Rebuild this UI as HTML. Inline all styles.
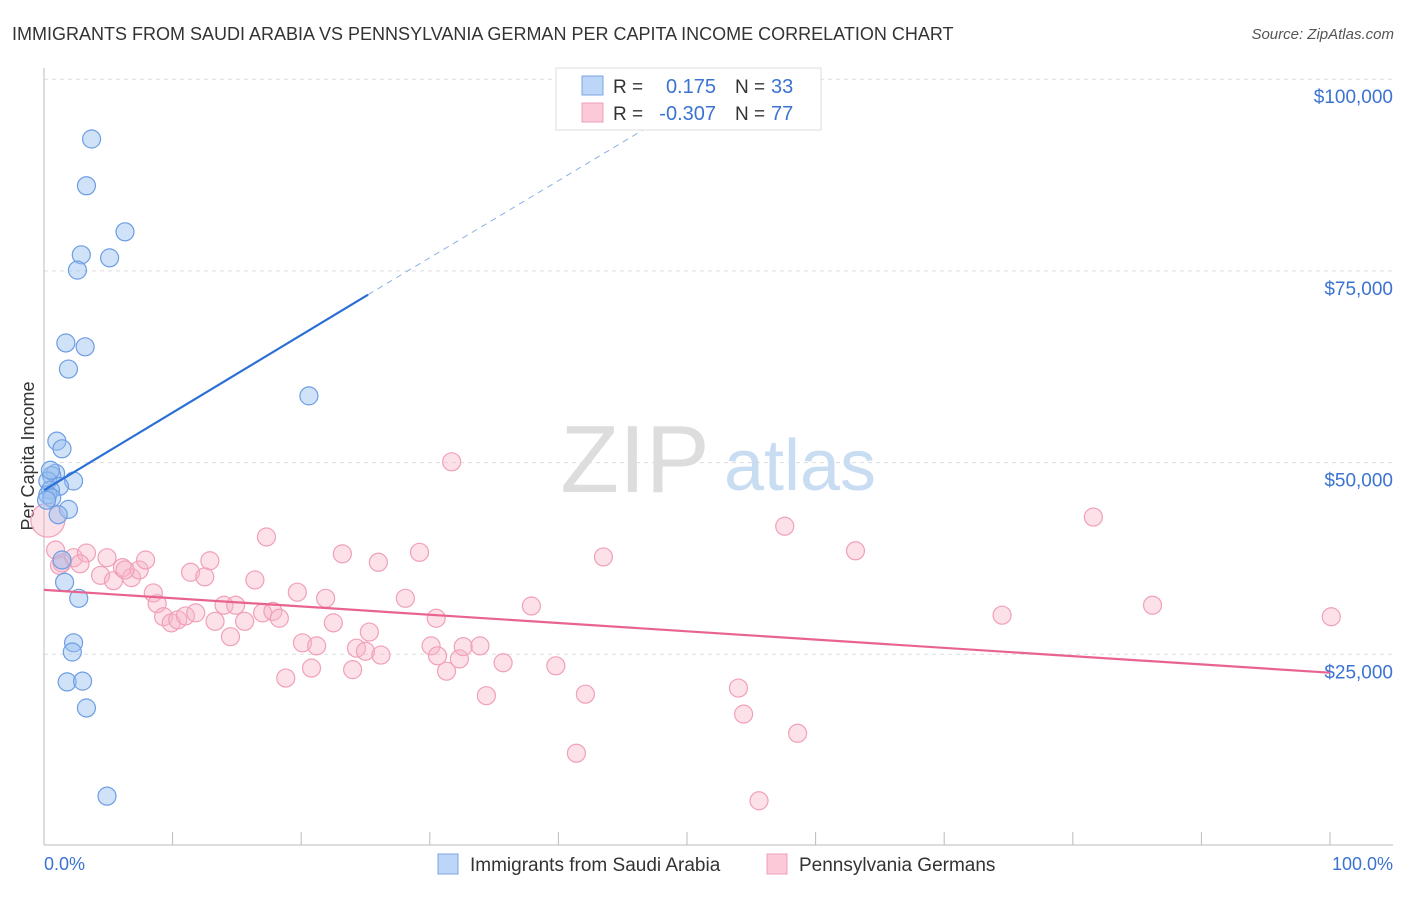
<!DOCTYPE html>
<html><head><meta charset="utf-8"><style>
body{margin:0;background:#fff;font-family:"Liberation Sans",sans-serif;}
svg text{font-family:"Liberation Sans",sans-serif;}
</style></head><body>
<svg width="1406" height="892">
<text x="12" y="40" font-size="18" fill="#333">IMMIGRANTS FROM SAUDI ARABIA VS PENNSYLVANIA GERMAN PER CAPITA INCOME CORRELATION CHART</text>
<text x="1394" y="39" font-size="15" fill="#555" font-style="italic" text-anchor="end">Source: ZipAtlas.com</text>
<g id="grid"></g>
<text x="635" y="492" font-size="96" fill="#ddd" font-family="Liberation Serif" text-anchor="middle">ZIP</text>
<text x="800" y="490" font-size="72" fill="#c8dcf2" text-anchor="middle">atlas</text>
<line x1="44" y1="68" x2="44" y2="845" stroke="#bbb"/>
<line x1="44" y1="845" x2="1393" y2="845" stroke="#bbb"/>
<text transform="translate(34,456) rotate(-90)" font-size="18" fill="#333" text-anchor="middle">Per Capita Income</text>
<text x="44" y="870" font-size="18" fill="#3b73d1">0.0%</text>
<text x="1393" y="870" font-size="18" fill="#3b73d1" text-anchor="end">100.0%</text>
<g id="pts"></g>
<g id="lines"></g>
<g>
<rect x="556" y="68" width="265" height="62" fill="#fff" stroke="#ddd"/>
<rect x="582" y="76" width="21" height="19" fill="#bcd6f7" stroke="#7aa6e6"/>
<rect x="582" y="103" width="21" height="19" fill="#fcc9d8" stroke="#f0a0b8"/>
<text x="613" y="93" font-size="19" fill="#333">R =</text><text x="716" y="93" font-size="20" fill="#3b73d1" text-anchor="end">0.175</text>
<text x="735" y="93" font-size="19" fill="#333">N =</text><text x="771" y="93" font-size="20" fill="#3b73d1">33</text>
<text x="613" y="120" font-size="19" fill="#333">R =</text><text x="716" y="120" font-size="20" fill="#3b73d1" text-anchor="end">-0.307</text>
<text x="735" y="120" font-size="19" fill="#333">N =</text><text x="771" y="120" font-size="20" fill="#3b73d1">77</text>
</g>
<g>
<rect x="438" y="854" width="20" height="20" fill="#bcd6f7" stroke="#7aa6e6"/>
<text x="470" y="871" font-size="19" fill="#333">Immigrants from Saudi Arabia</text>
<rect x="767" y="854" width="20" height="20" fill="#fcc9d8" stroke="#f0a0b8"/>
<text x="799" y="871" font-size="19" fill="#333">Pennsylvania Germans</text>
</g>
</svg>
<script>
const yTicks=[25000,50000,75000,100000];
const yTickLabels=["$25,000","$50,000","$75,000","$100,000"];
const xTicks=[0,10,20,30,40,50,60,70,80,90,100];
const blueX=[3.7,3.3,6.3,2.9,5.1,2.6,1.7,3.2,1.9,20.6,1.0,1.4,0.9,0.6,0.3,2.3,1.2,0.5,0.3,0.6,1.9,1.1,1.4,1.6,2.7,2.3,2.2,1.8,3.0,3.3,4.9,0.2,0.5];
const blueY=[92.2,86.1,80.1,77.1,76.7,75.1,65.6,65.1,62.2,58.7,52.8,51.8,48.6,48.3,47.6,47.6,46.9,46.4,45.8,45.4,43.9,43.2,37.3,34.4,32.3,26.5,25.3,21.4,21.5,18.0,6.5,45.1,49.0];
const pinkX=[0.3,0.9,1.4,2.3,3.3,2.8,4.4,4.9,5.4,6.1,6.8,7.4,7.9,8.5,8.8,9.3,9.9,10.4,11.0,11.4,11.8,12.5,12.9,13.3,14.0,14.5,14.9,15.6,16.4,17.0,17.3,17.8,18.3,18.8,19.7,20.1,20.8,21.2,21.9,22.5,23.2,24.0,24.3,25.0,25.3,26.0,26.2,28.1,29.2,30.1,30.5,30.6,31.3,31.7,32.3,32.6,33.9,34.4,35.7,37.9,39.8,41.4,42.1,43.5,54.0,54.4,55.6,57.6,58.6,63.1,74.5,81.6,86.2,100.1,1.2,6.3];
const pinkY=[42.5,38.6,36.9,37.6,38.2,36.8,35.3,37.6,34.6,36.3,35.0,36.0,37.3,33.0,31.6,29.9,29.1,29.5,30.0,35.7,30.4,35.1,37.2,29.3,31.4,27.3,31.4,29.3,34.7,30.4,40.3,30.6,29.7,21.9,33.1,26.5,23.2,26.1,32.3,29.1,38.1,23.0,25.8,25.4,27.9,37.0,24.9,32.3,38.3,26.1,29.7,24.8,22.8,50.1,24.4,26.0,26.1,19.6,23.9,31.3,23.5,12.1,19.8,37.7,20.6,17.2,5.9,41.7,14.7,38.5,30.1,42.9,31.4,29.9,36.6,36.0];
const blueTrend=[46.4,71.9,93.8]; // at x = 0, 25.2, 47
const blueTrendX=[0,25.2,47];
const pinkTrend=[33.4,22.6];
const pinkTrendX=[0,100];
const NS="http://www.w3.org/2000/svg";
const sx=p=>44+p*12.86;
const sy=v=>846-v*0.007668;
function mk(t,a,parent){const e=document.createElementNS(NS,t);for(const k in a)e.setAttribute(k,a[k]);parent.appendChild(e);return e;}
const grid=document.getElementById('grid');
yTicks.forEach((v,i)=>{
 const l=mk('line',{x1:44,x2:1393,y1:sy(v),y2:sy(v),stroke:'#ddd','stroke-dasharray':'4,4'},grid);
 
 
 const t=mk('text',{x:1393,y:sy(v)+24,'font-size':19,fill:'#3b73d1','text-anchor':'end'},grid);
 t.textContent=yTickLabels[i];
 
 
});
xTicks.forEach(p=>{
 const l=mk('line',{x1:sx(p),x2:sx(p),y1:832,y2:845,stroke:'#bbb'},grid);
 
 
});
const pts=document.getElementById('pts');
pinkX.forEach((x,i)=>{
 const c=mk('circle',{cx:sx(x),cy:sy(pinkY[i]*1000),r:i===0?17:9,fill:'rgba(248,180,200,0.4)',stroke:'#f0a0b8','stroke-width':1.2},pts);
 
 
});
blueX.forEach((x,i)=>{
 const c=mk('circle',{cx:sx(x),cy:sy(blueY[i]*1000),r:9,fill:'rgba(150,190,240,0.45)',stroke:'#6d9de3','stroke-width':1.2},pts);
 
 
});
const lines=document.getElementById('lines');
const b1=mk('line',{x1:sx(blueTrendX[0]),y1:sy(blueTrend[0]*1000),x2:sx(blueTrendX[1]),y2:sy(blueTrend[1]*1000),stroke:'#2a6fd6','stroke-width':2.2},lines);


const b2=mk('line',{x1:sx(blueTrendX[1]),y1:sy(blueTrend[1]*1000),x2:sx(blueTrendX[2]),y2:sy(blueTrend[2]*1000),stroke:'#8ab0e6','stroke-width':1,'stroke-dasharray':'6,5'},lines);


const p1=mk('line',{x1:sx(pinkTrendX[0]),y1:sy(pinkTrend[0]*1000),x2:sx(pinkTrendX[1]),y2:sy(pinkTrend[1]*1000),stroke:'#e8648f','stroke-width':2.2},lines);


</script>
</body></html>
